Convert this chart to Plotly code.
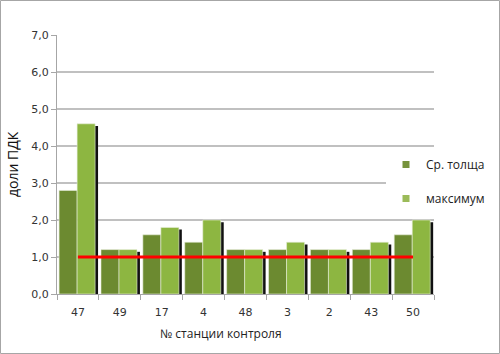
import plotly.graph_objects as go

stations = ["47", "49", "17", "4", "48", "3", "2", "43", "50"]
avg_depth = [2.8, 1.2, 1.6, 1.4, 1.2, 1.2, 1.2, 1.2, 1.6]
maximum = [4.6, 1.2, 1.8, 2.0, 1.2, 1.4, 1.2, 1.4, 2.0]
pdk_level = [1.0] * len(stations)
y_ticks = [0, 1, 2, 3, 4, 5, 6, 7]

W, H = 500, 354
ML, MR, MT, MB = 57, 66, 35, 60
PW, PH = W - ML - MR, H - MT - MB

fig = go.Figure()
# shadow behind "максимум" bars
fig.add_trace(go.Bar(x=stations, y=maximum, base=-0.06, offset=0.05, width=0.43,
                     marker=dict(color="#111111", line=dict(width=0)),
                     showlegend=False, hoverinfo="skip"))
fig.add_trace(go.Bar(x=stations, y=avg_depth, offset=-0.45, width=0.43, name="Ср. толща",
                     marker=dict(color="#6C8A30", line=dict(color="#e8eedc", width=0.6)),
                     showlegend=False))
fig.add_trace(go.Bar(x=stations, y=maximum, offset=-0.02, width=0.43, name="максимум",
                     marker=dict(color="#8DB641", line=dict(color="#e8eedc", width=0.6)),
                     showlegend=False))
fig.add_trace(go.Scatter(x=stations, y=pdk_level, mode="lines",
                         line=dict(color="#FF0000", width=3), showlegend=False))
# legend-only entries
fig.add_trace(go.Scatter(x=[None], y=[None], mode="markers", name="Ср. толща",
                         marker=dict(symbol="square", size=7, color="#77933C"),
                         legendgroup="a"))
fig.add_trace(go.Scatter(x=[None], y=[None], mode="markers", name="максимум",
                         marker=dict(symbol="square", size=7, color="#9BBB59"),
                         legendgroup="b"))

fig.update_layout(
    width=W, height=H,
    margin=dict(l=ML, r=MR, t=MT, b=MB, autoexpand=False),
    barmode="overlay",
    separators=", ",
    paper_bgcolor="white", plot_bgcolor="white",
    font=dict(family="DejaVu Sans", color="#404040", size=11),
    legend=dict(x=(386 - ML) / PW, xanchor="left", y=(294 - 150) / PH, yanchor="top",
                bgcolor="white", font=dict(family="Open Sans", size=12, color="#222222"),
                tracegroupgap=15, itemwidth=30),
    showlegend=True,
    shapes=[dict(type="rect", xref="paper", yref="paper",
                 x0=(0.5 - ML) / PW, x1=(W - 0.5 - ML) / PW,
                 y0=-(H - 0.5 - MT - PH) / PH, y1=(MT - 0.5) / PH + 1,
                 line=dict(color="#A6A6A6", width=1), layer="below")],
    annotations=[
        dict(text="№ станции контроля", xref="paper", yref="paper",
             x=(221 - ML) / PW, y=-(333 - MT - PH) / PH, showarrow=False,
             xanchor="center", yanchor="middle",
             font=dict(family="Open Sans", size=12, color="#222222")),
        dict(text="доли ПДК", xref="paper", yref="paper", textangle=-90,
             x=(12 - ML) / PW, y=(294 - 164) / PH, showarrow=False,
             xanchor="center", yanchor="middle",
             font=dict(family="Open Sans", size=14, color="#111111")),
    ],
)
fig.update_xaxes(type="category", showline=True, linecolor="#A6A6A6", linewidth=1,
                 ticks="outside", tickson="boundaries", ticklen=5, tickcolor="#A6A6A6",
                 ticklabelstandoff=8,
                 showgrid=False, tickfont=dict(size=11, color="#333333"))
fig.update_yaxes(range=[0, 7], tickvals=y_ticks, tickformat=".1f", showline=True,
                 linecolor="#A6A6A6", linewidth=1, ticks="outside", ticklen=5,
                 tickcolor="#A6A6A6", showgrid=True, gridcolor="#C0C0C0", gridwidth=1.5,
                 zeroline=False, tickfont=dict(size=11, color="#333333"))

fig.write_html("out.html")
